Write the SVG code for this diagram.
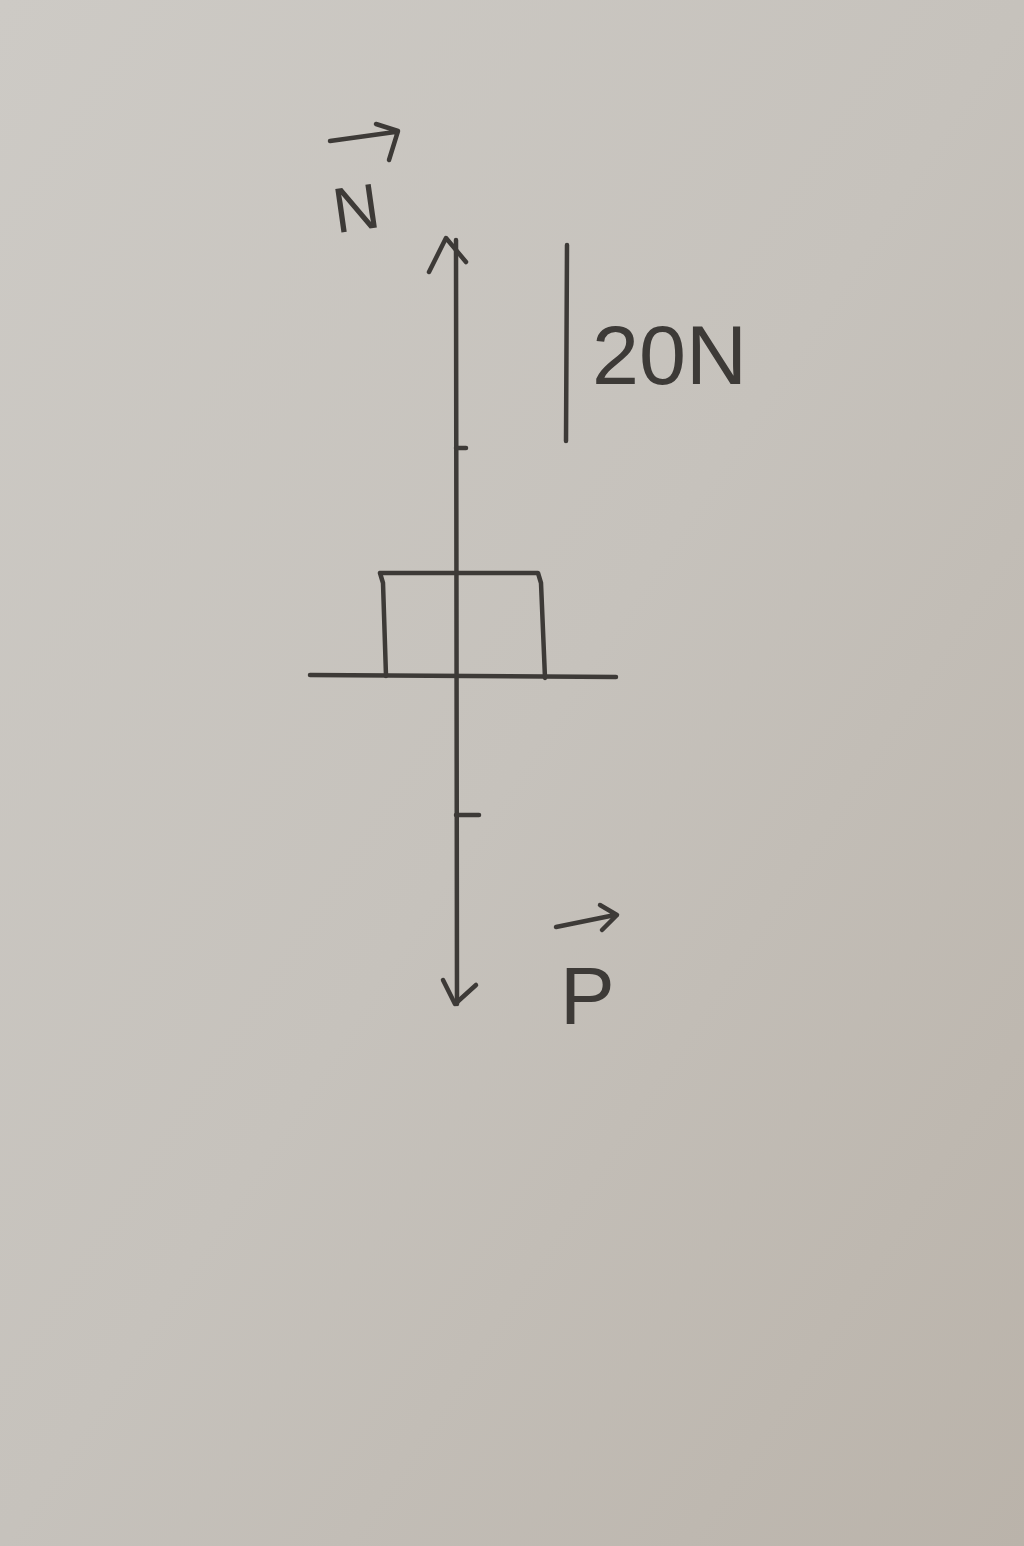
<svg xmlns="http://www.w3.org/2000/svg" width="1024" height="1546" viewBox="0 0 1024 1546">
<defs>
<linearGradient id="paper" x1="0" y1="0" x2="1" y2="1">
<stop offset="0" stop-color="#cdcac5"/>
<stop offset="0.5" stop-color="#c6c2bc"/>
<stop offset="1" stop-color="#bab3aa"/>
</linearGradient>
<style>
.ink{fill:none;stroke:#3d3a37;stroke-width:4.5;stroke-linecap:round;stroke-linejoin:round}
.lbl{font-family:"Liberation Sans",Arial,sans-serif;fill:#3d3a37}
</style>
</defs>
<rect x="0" y="0" width="1024" height="1546" fill="url(#paper)"/>
<g id="connectors">
<path class="ink" d="M456 240 L457 1004"/>
<path class="ink" d="M429 272 L446 238 L466 262"/>
<path class="ink" d="M443 980 L455 1004 L476 985"/>
<path class="ink" d="M456 448 L466 448"/>
<path class="ink" d="M456 815 L479 815"/>
</g>
<g id="ground"><path class="ink" d="M310 675 L616 677"/></g>
<g id="block"><path class="ink" d="M386 676 L383 583 L380 573 L538 573 L541 583 L545 678"/></g>
<g id="scale"><path class="ink" d="M567 245 L566 441"/></g>
<g id="label-N">
<path class="ink" d="M330 141 L395 132 M376 124 L398 131 L389 160"/>
<text class="lbl" x="333" y="230" font-size="64" transform="rotate(-8 358 208)">N</text>
</g>
<g id="label-20N"><text class="lbl" x="592" y="384" font-size="84" textLength="155" lengthAdjust="spacingAndGlyphs">20N</text></g>
<g id="label-P">
<path class="ink" d="M556 927 L615 915 M600 905 L617 915 L602 930"/>
<text class="lbl" x="560" y="1024" font-size="82">P</text>
</g>
</svg>
